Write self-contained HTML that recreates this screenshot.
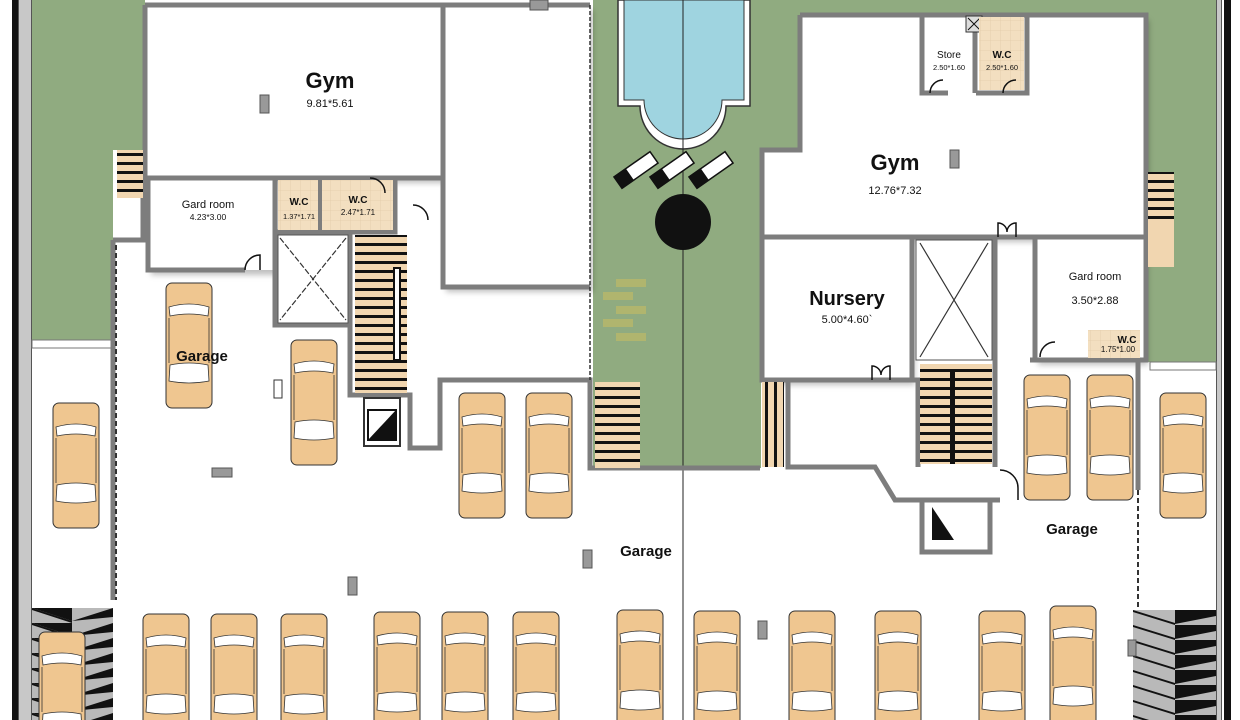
<!DOCTYPE html>
<html><head><meta charset="utf-8"><style>
html,body{margin:0;padding:0;background:#fff;width:1240px;height:720px;overflow:hidden;}
svg{display:block;overflow:hidden;}
text{font-family:"Liberation Sans",sans-serif;fill:#111;}
</style></head><body>
<svg width="1240" height="720" viewBox="0 0 1240 720" xmlns="http://www.w3.org/2000/svg">
<defs>
<clipPath id="frame"><rect x="0" y="0" width="1240" height="720"/></clipPath>
<g id="car">
<rect x="0" y="0" width="46" height="125" rx="6" fill="#efc690" stroke="#333" stroke-width="1"/>
<path d="M3 24 Q23 18 43 24 L42 33 Q23 29 4 33 Z" fill="#fff" stroke="#333" stroke-width="0.8"/>
<path d="M4 82 Q23 78 42 82 L43 98 Q23 102 3 98 Z" fill="#fff" stroke="#333" stroke-width="0.8"/>
<line x1="3" y1="35" x2="3" y2="80" stroke="#333" stroke-width="0.8"/>
<line x1="43" y1="35" x2="43" y2="80" stroke="#333" stroke-width="0.8"/>
</g>
<pattern id="rampL" x="32" y="608" width="81" height="15" patternUnits="userSpaceOnUse">
<rect width="81" height="15" fill="#b9b9b9"/>
<path d="M0 0 L40 0 L40 13Z" fill="#111"/>
<path d="M0 0 L40 13 L40 15 L0 2Z" fill="#111"/>
<path d="M81 0 L40 13 L81 9Z" fill="#111"/>
</pattern>
<pattern id="rampR" x="1133" y="610" width="83" height="15" patternUnits="userSpaceOnUse">
<rect width="83" height="15" fill="#b9b9b9"/>
<path d="M0 0 L42 13 L42 15 L0 2Z" fill="#111"/>
<path d="M42 0 L83 0 L83 6 L42 14Z" fill="#111"/>
</pattern>
<pattern id="tile" width="10" height="10" patternUnits="userSpaceOnUse">
<rect width="10" height="10" fill="#f3dfc0"/><path d="M0 0H10M0 0V10" stroke="#e3ccaa" stroke-width="0.8"/>
</pattern>
<pattern id="stair" width="10" height="9" patternUnits="userSpaceOnUse">
<rect width="10" height="9" fill="#f1d6b0"/><rect y="0" width="10" height="3" fill="#111"/>
</pattern>
<pattern id="stairV" width="9" height="10" patternUnits="userSpaceOnUse">
<rect width="9" height="10" fill="#f1d6b0"/><rect x="0" width="3" height="10" fill="#111"/>
</pattern>
<filter id="sh" x="-10%" y="-10%" width="130%" height="130%"><feDropShadow dx="3" dy="5" stdDeviation="3" flood-color="#000" flood-opacity="0.25"/></filter>
</defs>
<g clip-path="url(#frame)">

<rect x="12" y="0" width="6" height="720" fill="#111"/>
<rect x="18" y="0" width="14" height="720" fill="#c8c8c8"/>
<line x1="18.5" y1="0" x2="18.5" y2="720" stroke="#555"/>
<line x1="31.5" y1="0" x2="31.5" y2="720" stroke="#555"/>
<rect x="1216" y="0" width="6" height="720" fill="#c8c8c8"/>
<line x1="1216.5" y1="0" x2="1216.5" y2="720" stroke="#555"/>
<line x1="1221.5" y1="0" x2="1221.5" y2="720" stroke="#555"/>
<rect x="1224" y="0" width="7" height="720" fill="#111"/>

<rect x="32" y="0" width="81" height="340" fill="#90ab80"/>
<rect x="113" y="0" width="32" height="150" fill="#90ab80"/>
<rect x="593" y="0" width="168" height="468" fill="#90ab80"/>
<rect x="593" y="0" width="210" height="152" fill="#90ab80"/>
<rect x="800" y="0" width="350" height="15" fill="#90ab80"/>
<rect x="1146" y="0" width="70" height="362" fill="#90ab80"/>
<rect x="32" y="340" width="81" height="8" fill="#fff" stroke="#777" stroke-width="1"/>
<rect x="1150" y="362" width="66" height="8" fill="#fff" stroke="#777" stroke-width="1"/>

<path d="M618 0 V106 H640 A43 43 0 0 0 726 106 H750 V0Z" fill="#fff" stroke="#333" stroke-width="1.5"/>
<path d="M624 0 V100 H644 A39 39 0 0 0 722 100 H744 V0Z" fill="#9fd4e0" stroke="#333" stroke-width="1"/>
<line x1="683" y1="0" x2="683" y2="720" stroke="#222" stroke-width="1"/>
<g fill="#111" stroke="#111">
<g transform="translate(636,170) rotate(-35)"><rect x="-22" y="-7" width="44" height="14" fill="#fff" stroke-width="1.5"/><rect x="-22" y="-7" width="14" height="14"/></g>
<g transform="translate(672,170) rotate(-35)"><rect x="-22" y="-7" width="44" height="14" fill="#fff" stroke-width="1.5"/><rect x="-22" y="-7" width="14" height="14"/></g>
<g transform="translate(711,170) rotate(-35)"><rect x="-22" y="-7" width="44" height="14" fill="#fff" stroke-width="1.5"/><rect x="-22" y="-7" width="14" height="14"/></g>
</g>
<circle cx="683" cy="222" r="28" fill="#111"/>
<g fill="#b9b86a" opacity="0.8">
<rect x="616" y="279" width="30" height="8"/><rect x="603" y="292" width="30" height="8"/><rect x="616" y="306" width="30" height="8"/><rect x="603" y="319" width="30" height="8"/><rect x="616" y="333" width="30" height="8"/>
</g>

<rect x="32" y="608" width="81" height="112" fill="url(#rampL)"/>
<rect x="1133" y="610" width="83" height="110" fill="url(#rampR)"/>

<g filter="url(#sh)">
<rect x="145" y="5" width="298" height="173" fill="#fff"/>
<rect x="443" y="5" width="147" height="282" fill="#fff"/>
<rect x="148" y="178" width="127" height="92" fill="#fff"/>
</g>
<g fill="none" stroke="#7d7d7d" stroke-width="5">
<path d="M145 5 H443 V287 H590"/>
<path d="M443 5 H590"/>
<path d="M145 5 V178 H443"/>
<path d="M148 178 V270 H245"/>
<path d="M275 178 V232 H395 V178"/>
<path d="M320 178 V232"/>
<path d="M275 232 V325 H350"/>
<path d="M350 232 V395 H410 V448 H440 V380 H590 V468 H760"/>
<path d="M113 240 V600"/>
<path d="M143 178 V240 H113"/>
</g>
<path d="M590 5 V380" stroke="#333" stroke-width="1.5" stroke-dasharray="4,2" fill="none"/>
<path d="M116 245 V600" stroke="#333" stroke-width="2" stroke-dasharray="5,3" fill="none"/>
<rect x="278" y="180" width="40" height="50" fill="url(#tile)"/>
<rect x="322" y="180" width="71" height="50" fill="url(#tile)"/>
<rect x="278" y="235" width="70" height="88" fill="#fff" stroke="#555" stroke-width="1"/>
<path d="M280 238 L346 320 M346 238 L280 320" stroke="#333" stroke-width="1.2" stroke-dasharray="6,2"/>
<rect x="355" y="235" width="52" height="158" fill="url(#stair)"/>
<rect x="394" y="268" width="6" height="92" fill="#fff" stroke="#111" stroke-width="2"/>
<rect x="364" y="398" width="36" height="48" fill="#fff" stroke="#333" stroke-width="2"/>
<path d="M368 440 L396 410 V440Z" fill="#111"/><rect x="368" y="410" width="28" height="30" fill="none" stroke="#111" stroke-width="2"/>
<rect x="117" y="150" width="26" height="48" fill="url(#stair)"/>
<path d="M245 270 A15 15 0 0 1 260 255 V270" fill="none" stroke="#111" stroke-width="1.5"/>
<path d="M413 205 A15 15 0 0 1 428 220" fill="none" stroke="#111" stroke-width="1.5"/>
<path d="M370 178 A15 15 0 0 1 385 193" fill="none" stroke="#111" stroke-width="1.5"/>
<path d="M595 382 h45 v86 h-45z" fill="url(#stair)"/>
<rect x="260" y="95" width="9" height="18" fill="#999" stroke="#555"/>
<rect x="212" y="468" width="20" height="9" fill="#999" stroke="#555"/>
<rect x="348" y="577" width="9" height="18" fill="#999" stroke="#555"/>
<rect x="583" y="550" width="9" height="18" fill="#999" stroke="#555"/>
<rect x="274" y="380" width="8" height="18" fill="#fff" stroke="#333"/>
<rect x="530" y="0" width="18" height="10" fill="#999" stroke="#555"/>

<g filter="url(#sh)">
<path d="M800 15 H1146 V237 H762 V150 H800Z" fill="#fff"/>
<rect x="762" y="237" width="150" height="143" fill="#fff"/>
<rect x="1035" y="237" width="110" height="123" fill="#fff"/>
</g>
<g fill="none" stroke="#7d7d7d" stroke-width="5">
<path d="M800 15 H1146 V360 H1030"/>
<path d="M800 15 V150 H762 V380 H912"/>
<path d="M762 237 H1146"/>
<path d="M912 237 V380 H918 V467"/>
<path d="M995 237 V467"/>
<path d="M1035 237 V360"/>
<path d="M922 15 V93 H948 M976 93 H1027 V15"/>
<path d="M975 15 V93"/>
<path d="M788 380 V467 H875 L895 500 H1000"/>
<path d="M922 500 V552 H990 V500"/>
<path d="M1138 360 V490"/>
</g>
<path d="M1138 490 V610" stroke="#333" stroke-width="2" stroke-dasharray="5,3" fill="none"/>
<rect x="966" y="16" width="16" height="16" fill="#ddd" stroke="#333"/><path d="M968 18 L980 30 M980 18 L968 30" stroke="#111"/>
<rect x="979" y="17" width="45" height="73" fill="url(#tile)"/>
<rect x="916" y="240" width="76" height="120" fill="#fff" stroke="#555"/>
<path d="M920 243 L988 357 M988 243 L920 357" stroke="#333" stroke-width="1.2"/>
<rect x="920" y="364" width="72" height="100" fill="url(#stair)"/>
<rect x="950" y="372" width="5" height="92" fill="#111"/>
<rect x="1148" y="172" width="26" height="95" fill="#f1d6b0"/>
<rect x="1148" y="172" width="26" height="50" fill="url(#stair)"/>
<rect x="762" y="382" width="22" height="85" fill="url(#stairV)"/>
<rect x="1088" y="330" width="52" height="28" fill="url(#tile)"/>
<rect x="930" y="505" width="26" height="40" fill="#fff"/><path d="M932 507 L954 540 H932Z" fill="#111"/>
<path d="M1000 470 A18 18 0 0 1 1018 488 V500" fill="none" stroke="#111" stroke-width="1.5"/>
<path d="M1040 357 A15 15 0 0 1 1055 342" fill="none" stroke="#111" stroke-width="1.5"/>
<path d="M872 380 v-14 a9 9 0 0 1 9 9 a9 9 0 0 1 9 -9 v14" fill="none" stroke="#111" stroke-width="1.5"/>
<path d="M998 237 v-14 a9 9 0 0 1 9 9 a9 9 0 0 1 9 -9 v14" fill="none" stroke="#111" stroke-width="1.5"/>
<path d="M930 93 A13 13 0 0 1 943 80 M1003 93 A13 13 0 0 1 1016 80" fill="none" stroke="#111" stroke-width="1.5"/>
<rect x="950" y="150" width="9" height="18" fill="#999" stroke="#555"/>
<rect x="758" y="621" width="9" height="18" fill="#999" stroke="#555"/>
<rect x="1128" y="640" width="8" height="16" fill="#999" stroke="#555"/>

<use href="#car" x="166" y="283"/>
<use href="#car" x="291" y="340"/>
<use href="#car" x="53" y="403"/>
<use href="#car" x="459" y="393"/>
<use href="#car" x="526" y="393"/>
<use href="#car" x="1024" y="375"/>
<use href="#car" x="1087" y="375"/>
<use href="#car" x="1160" y="393"/>

<svg x="0" y="560" width="1240" height="160" viewBox="0 0 1240 160" overflow="hidden">
<use href="#car" x="39" y="72"/>
<use href="#car" x="143" y="54"/>
<use href="#car" x="211" y="54"/>
<use href="#car" x="281" y="54"/>
<use href="#car" x="374" y="52"/>
<use href="#car" x="442" y="52"/>
<use href="#car" x="513" y="52"/>
<use href="#car" x="617" y="50"/>
<use href="#car" x="694" y="51"/>
<use href="#car" x="789" y="51"/>
<use href="#car" x="875" y="51"/>
<use href="#car" x="979" y="51"/>
<use href="#car" x="1050" y="46"/>
</svg>

<g text-anchor="middle">
<text x="330" y="88" font-size="22" font-weight="bold">Gym</text>
<text x="330" y="107" font-size="11">9.81*5.61</text>
<text x="208" y="208" font-size="11">Gard room</text>
<text x="208" y="220" font-size="8.5">4.23*3.00</text>
<text x="299" y="205" font-size="10" font-weight="bold">W.C</text>
<text x="299" y="219" font-size="7.5">1.37*1.71</text>
<text x="358" y="203" font-size="10" font-weight="bold">W.C</text>
<text x="358" y="215" font-size="8">2.47*1.71</text>
<text x="202" y="361" font-size="15" font-weight="bold">Garage</text>
<text x="646" y="556" font-size="15" font-weight="bold">Garage</text>
<text x="1072" y="534" font-size="15" font-weight="bold">Garage</text>
<text x="895" y="170" font-size="22" font-weight="bold">Gym</text>
<text x="895" y="194" font-size="11">12.76*7.32</text>
<text x="949" y="58" font-size="10">Store</text>
<text x="949" y="70" font-size="7.5">2.50*1.60</text>
<text x="1002" y="58" font-size="10" font-weight="bold">W.C</text>
<text x="1002" y="70" font-size="7.5">2.50*1.60</text>
<text x="847" y="305" font-size="20" font-weight="bold">Nursery</text>
<text x="847" y="323" font-size="11">5.00*4.60`</text>
<text x="1095" y="280" font-size="11">Gard room</text>
<text x="1095" y="304" font-size="11">3.50*2.88</text>
<text x="1127" y="343" font-size="10" font-weight="bold">W.C</text>
<text x="1118" y="352" font-size="8">1.75*1.00</text>
</g>
</g>
</svg>
</body></html>
